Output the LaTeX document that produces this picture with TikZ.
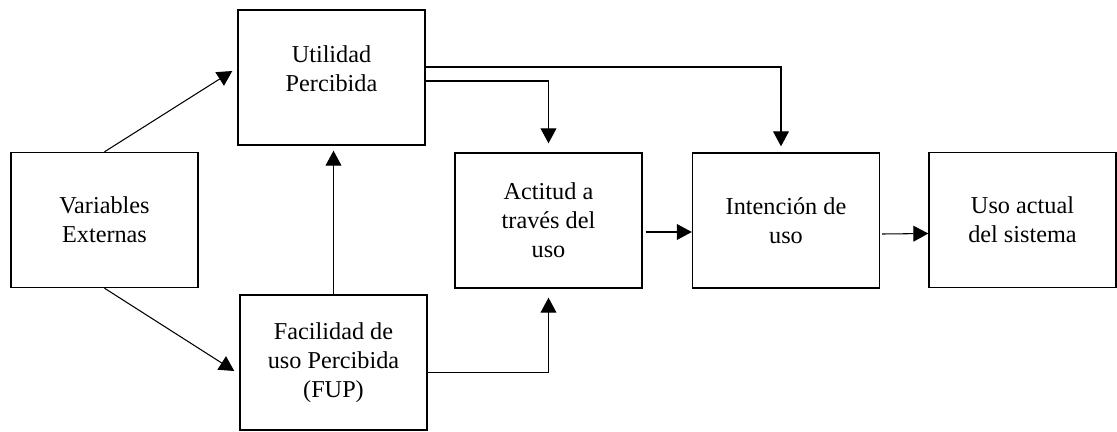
\documentclass[tikz,border=0pt]{standalone}
\usepackage{fontspec}
\setmainfont{Liberation Serif}
\usetikzlibrary{arrows.meta,calc}

\begin{document}
\begin{tikzpicture}[box/.style={draw, line width=0.8pt, minimum width=3.74cm, minimum height=2.7cm, align=center, inner sep=0pt, font=\fontsize{13.8}{16.5}\selectfont},link/.style={line width=0.6pt, -{Triangle[length=8.5pt, width=9pt]}}]
\useasboundingbox (0,0) rectangle (22.34,8.62);
\node[box] (ve) at (2.09,4.22) {Variables\\ Externas};
\node[box, text depth=0.36cm] (up) at (6.63,7.07) {Utilidad\\ Percibida};
\node[box] (fup) at (6.67,1.37) {Facilidad de\\ uso Percibida\\ (FUP)};
\node[box] (act) at (10.97,4.21) {Actitud a\\ trav\'es del\\ uso};
\node[box] (int) at (15.72,4.21) {Intenci\'on de\\ uso};
\node[box] (uso) at (20.45,4.22) {Uso actual\\ del sistema};
\draw[link] (ve.north) -- ($(up.west)+(-0.1,0.13)$);
\draw[link] (ve.south) -- ($(fup.west)+(-0.1,-0.17)$);
\draw[link, shorten >=0.1cm] (fup.north) -- (fup.north |- up.south);
\draw[link, shorten >=0.12cm] ($(up.east)+(0,0.21)$) -| ($(int.north)+(-0.1,0)$);
\draw[link, shorten >=0.18cm] ($(up.east)+(0,-0.07)$) -| (act.north);
\draw[link, shorten >=0.18cm] ($(fup.east)+(0,-0.2)$) -| (act.south);
\draw[link] ($(act.east)+(0.06,-0.23)$) -- ($(int.west)+(0,-0.23)$);
\draw[link] ($(int.east)+(0.04,-0.27)$) -- ($(uso.west)+(0,-0.27)$);
\end{tikzpicture}
\end{document}
